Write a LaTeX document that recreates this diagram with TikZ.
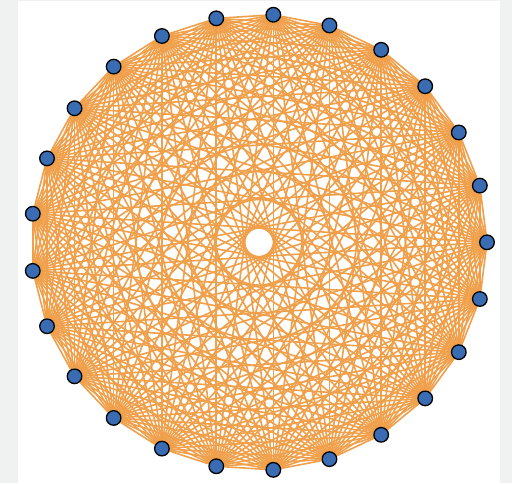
\documentclass[tikz,border=0pt]{standalone}
\usetikzlibrary{backgrounds}
\definecolor{edgeorange}{RGB}{240,160,75}
\definecolor{nodeblue}{RGB}{58,108,180}
\definecolor{pagegrey}{RGB}{240,242,241}
\tikzset{
  vertex/.style={circle,draw=black,line width=1.3pt,fill=nodeblue,minimum size=14.6pt,inner sep=0pt},
  edgeline/.style={draw=edgeorange,line width=1.6pt}
}
\begin{document}
\begin{tikzpicture}[x=1pt,y=-1pt]
\useasboundingbox (0,0) rectangle (512,483);
\foreach \i in {0,...,24}{
  \node[vertex] (v\i) at ({259+228*cos(14.4*\i)},{242.3-228*sin(14.4*\i)}) {};
}
\begin{pgfonlayer}{background}
\fill[pagegrey] (0,0) rectangle (512,483);
\fill[white] (18,1) rectangle (500,483);
\foreach \i in {0,...,23}{
  \pgfmathtruncatemacro{\s}{\i+1}
  \foreach \j in {\s,...,24}{
    \draw[edgeline] (v\i) -- (v\j);
  }
}
\end{pgfonlayer}
\end{tikzpicture}
\end{document}
